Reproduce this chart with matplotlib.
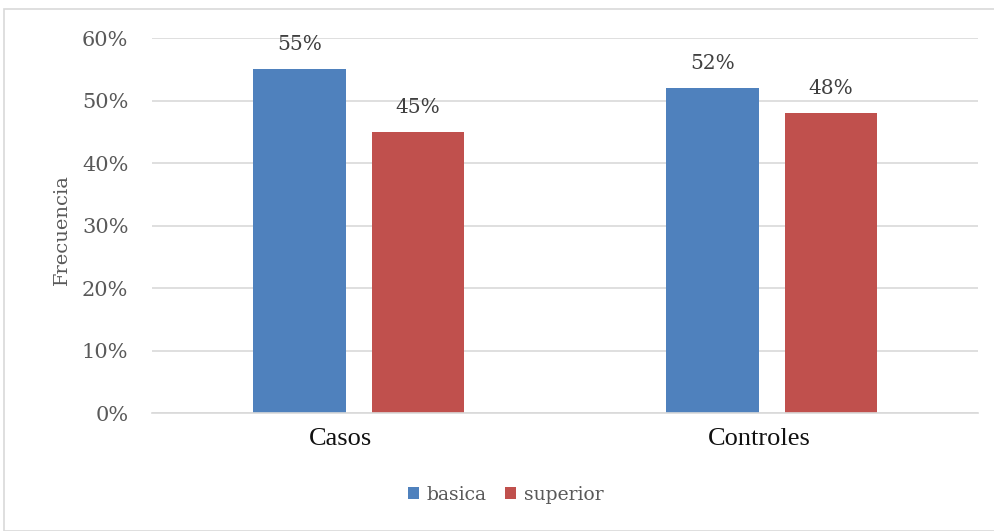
import matplotlib.pyplot as plt
import numpy as np
from matplotlib.patches import Rectangle
from matplotlib.transforms import ScaledTranslation

# Datos
categorias = ['Casos', 'Controles']
basica = [55, 52]
superior = [45, 48]
series = ['basica', 'superior']
colores = ['#4F81BD', '#C0504D']
gris = '#595959'

plt.rcParams['font.family'] = ['DejaVu Serif']

fig = plt.figure(figsize=(9.95, 5.31), dpi=100)
ax = fig.add_axes([0.1528, 0.2222, 0.8302, 0.7062])

x = np.arange(len(categorias))
ancho = 0.223
desp = 0.143

b1 = ax.bar(x - desp, basica, ancho, color=colores[0], label=series[0])
b2 = ax.bar(x + desp, superior, ancho, color=colores[1], label=series[1])

for barras in (b1, b2):
    for r in barras:
        ax.text(r.get_x() + r.get_width() / 2, r.get_height() + 2.4,
                f'{r.get_height():.0f}%', ha='center', va='bottom',
                fontsize=14.5, color='#404040')

ax.set_xlim(-0.5, 1.5)
ax.set_ylim(0, 60)
ax.set_yticks(range(0, 61, 10))
ax.set_yticklabels([f'{v}%' for v in range(0, 61, 10)])
ax.set_xticks(x)
ax.set_xticklabels(categorias, fontfamily='Liberation Serif', fontsize=19,
                   color='#111111')
ax.tick_params(axis='both', length=0)
ax.tick_params(axis='y', pad=17, labelsize=15, labelcolor=gris)
ax.tick_params(axis='x', pad=11)
ax.yaxis.grid(True, color='#D9D9D9', linewidth=1.2)
ax.set_axisbelow(True)
for s in ['top', 'right', 'left']:
    ax.spines[s].set_visible(False)
ax.spines['bottom'].set_color('#D9D9D9')
ax.spines['bottom'].set_linewidth(1.2)

# las etiquetas de categoría quedan un poco a la izquierda en el original
for lbl, dx in zip(ax.get_xticklabels(), [-18, -12]):
    lbl.set_transform(lbl.get_transform() +
                      ScaledTranslation(dx / 100, 0, fig.dpi_scale_trans))

fig.text(62 / 995, 1 - 230 / 531, 'Frecuencia', rotation=90, ha='center',
         va='center', fontsize=14, color=gris)

fig.legend(loc='center', bbox_to_anchor=(0.508, 0.068), ncol=2, frameon=False,
           fontsize=13.5, handlelength=0.6, handleheight=0.6, handletextpad=0.4,
           columnspacing=1.0, labelcolor=gris)

# borde del gráfico
fig.patches.append(Rectangle((4 / 995, 0.0), 1 - 4 / 995, 1 - 9 / 531,
                             transform=fig.transFigure, fill=False,
                             edgecolor='#D9D9D9', linewidth=1.2))

fig.savefig('out.png', dpi=100)
